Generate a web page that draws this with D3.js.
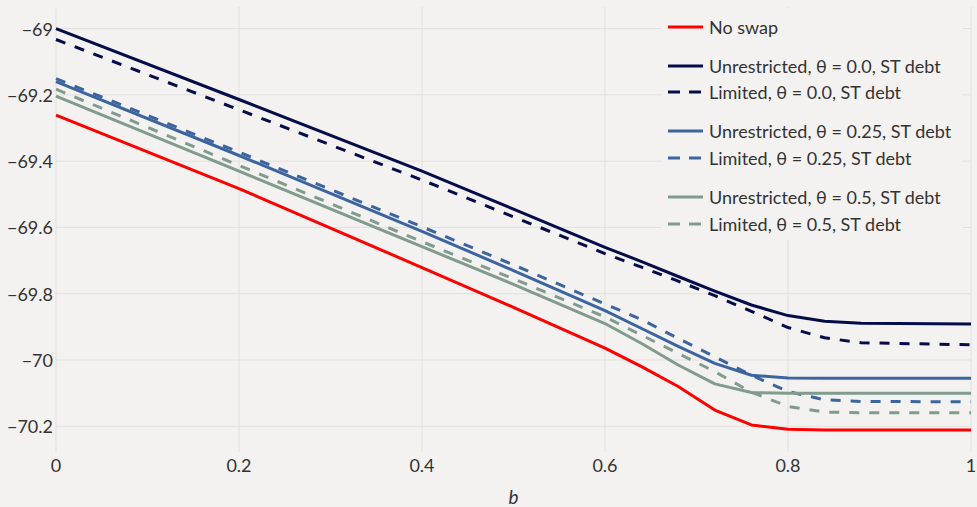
<!DOCTYPE html>
<html>
<head>
<meta charset="utf-8">
<style>
  body { margin: 0; background: #f3f2f0; }
  svg { display: block; font-family: Lato, "Open Sans", sans-serif; }
</style>
</head>
<body>
<svg id="chart" width="977" height="507"></svg>
<script src="https://cdn.jsdelivr.net/npm/d3@7"></script>
<script>
var bValues = [0, 0.2, 0.4, 0.5, 0.6, 0.64, 0.68, 0.72, 0.76, 0.8, 0.84, 0.88, 1.0];

var noSwap      = [-69.261, -69.483, -69.721, -69.841, -69.964, -70.02, -70.08, -70.151, -70.196, -70.209, -70.211, -70.211, -70.211];
var unrest00    = [-69.0, -69.214, -69.43, -69.545, -69.66, -69.703, -69.748, -69.792, -69.834, -69.866, -69.883, -69.889, -69.891];
var limited00   = [-69.033, -69.245, -69.457, -69.568, -69.679, -69.72, -69.762, -69.806, -69.853, -69.902, -69.933, -69.948, -69.954];
var unrest025   = [-69.16, -69.383, -69.612, -69.73, -69.851, -69.905, -69.959, -70.01, -70.046, -70.054, -70.055, -70.055, -70.055];
var limited025  = [-69.151, -69.373, -69.598, -69.713, -69.831, -69.878, -69.935, -69.99, -70.046, -70.095, -70.12, -70.125, -70.126];
var unrest05    = [-69.204, -69.43, -69.658, -69.772, -69.89, -69.95, -70.015, -70.072, -70.098, -70.1, -70.1, -70.1, -70.1];
var limited05   = [-69.183, -69.413, -69.643, -69.755, -69.87, -69.925, -69.98, -70.035, -70.097, -70.14, -70.157, -70.159, -70.159];

var seriesNames = ["No swap",
  "Unrestricted, θ = 0.0, ST debt", "Limited, θ = 0.0, ST debt",
  "Unrestricted, θ = 0.25, ST debt", "Limited, θ = 0.25, ST debt",
  "Unrestricted, θ = 0.5, ST debt", "Limited, θ = 0.5, ST debt"];
var seriesValues = [noSwap, unrest00, limited00, unrest025, limited025, unrest05, limited05];
var seriesColors = ["#ff0000", "#050c4a", "#050c4a", "#3c659f", "#3c659f", "#819b8d", "#819b8d"];
var seriesDashed = [false, false, true, false, true, false, true];

var xTicks = [0, 0.2, 0.4, 0.6, 0.8, 1];
var yTicks = [-69, -69.2, -69.4, -69.6, -69.8, -70, -70.2];

var svg = d3.select("#chart");

var x = d3.scaleLinear().domain([0, 1]).range([56, 971]);
var y = d3.scaleLinear().domain([-68.935, -70.2775]).range([7, 452]);

function minus(v) { return String(v).replace("-", "\u2212"); }

// gridlines
svg.append("g").selectAll("line").data(xTicks).enter().append("line")
  .attr("x1", d => x(d)).attr("x2", d => x(d))
  .attr("y1", 7).attr("y2", 452)
  .attr("stroke", "#e1e0de").attr("stroke-width", 1);

svg.append("g").selectAll("line").data(yTicks).enter().append("line")
  .attr("x1", 56).attr("x2", 971)
  .attr("y1", d => y(d)).attr("y2", d => y(d))
  .attr("stroke", "#e1e0de").attr("stroke-width", 1);

// tick labels
svg.append("g").selectAll("text").data(yTicks).enter().append("text")
  .attr("x", 53).attr("y", d => y(d))
  .attr("text-anchor", "end").attr("dominant-baseline", "central")
  .attr("fill", "#333").style("font-size", "18px")
  .text(d => minus(d));

svg.append("g").selectAll("text").data(xTicks).enter().append("text")
  .attr("x", d => x(d)).attr("y", 472)
  .attr("text-anchor", "middle")
  .attr("fill", "#333").style("font-size", "18px")
  .text(d => d);

svg.append("text")
  .attr("x", x(0.5)).attr("y", 504)
  .attr("text-anchor", "middle")
  .attr("fill", "#333").style("font-size", "19px").style("font-style", "italic")
  .text("b");

// lines
var line = d3.line()
  .x((d, i) => x(bValues[i]))
  .y(d => y(d));

svg.append("g").selectAll("path").data(seriesValues).enter().append("path")
  .attr("d", d => line(d))
  .attr("fill", "none")
  .attr("stroke", (d, i) => seriesColors[i])
  .attr("stroke-width", 3)
  .attr("stroke-linejoin", "round")
  .attr("stroke-dasharray", (d, i) => seriesDashed[i] ? "10,10" : null);

// legend
var legendY = [27, 66, 92, 131, 158, 197, 224];
var legend = svg.append("g");
legend.append("rect")
  .attr("x", 662).attr("y", 8).attr("width", 300).attr("height", 232)
  .attr("fill", "#f3f2f0");

var items = legend.selectAll("g.item").data(seriesNames).enter().append("g").attr("class", "item");
items.append("line")
  .attr("x1", 668).attr("x2", 703)
  .attr("y1", (d, i) => legendY[i]).attr("y2", (d, i) => legendY[i])
  .attr("stroke", (d, i) => seriesColors[i])
  .attr("stroke-width", 3)
  .attr("stroke-dasharray", (d, i) => seriesDashed[i] ? "12,9" : null);
items.append("text")
  .attr("x", 709).attr("y", (d, i) => legendY[i])
  .attr("dominant-baseline", "central")
  .attr("fill", "#333").style("font-size", "18px")
  .text(d => d);
</script>
</body>
</html>
